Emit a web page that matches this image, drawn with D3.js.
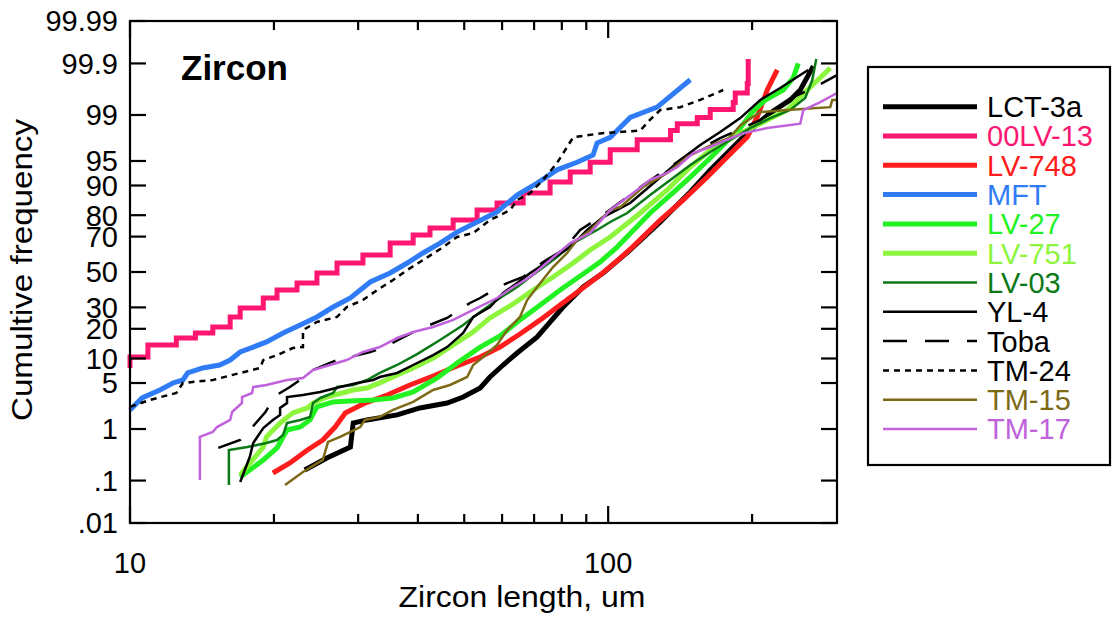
<!DOCTYPE html>
<html><head><meta charset="utf-8">
<script src="https://cdn.jsdelivr.net/npm/d3@7"></script>
<style>
body{margin:0;background:#fff}
svg{display:block}
text{font-family:"Liberation Sans",Arial,Helvetica,sans-serif}
</style>
</head><body>
<svg id="chart" width="1115" height="617"></svg>
<script>
// ---------- DATA (length in um, cumulative frequency in %) ----------
const seriesNames = ["LCT-3a","00LV-13","LV-748","MFT","LV-27","LV-751","LV-03","YL-4","Toba","TM-24","TM-15","TM-17"];

const lct3a = [[23.2,0.168],[25.8,0.293],[28.9,0.476],[29.3,1.26],[31.3,1.42],[36.2,1.71],[40.4,2.2],[46.05,2.61],[49.75,3.2],[54.0,4.28],[56.6,5.99],[60.3,8.41],[64.5,11.5],[71.05,16.8],[80.5,30.2],[88.65,41.2],[97.6,49.4],[111.2,62.8],[128.5,77.06],[148.5,88.2],[163.5,93.46],[180,96.46],[198.2,98.23],[218.3,99.08],[240.3,99.46],[252.2,99.65],[268.5,99.886]];
const lv00_13 = [[10,7.75],[10,10.4],[10.9,10.4],[10.9,14.0],[12.1,14.0],[12.5,16.4],[13.7,18.3],[14.9,20.75],[16.2,25.25],[17.0,29.7],[19.0,35.0],[20.3,39.5],[22.35,43.5],[24.6,49.4],[27.1,55.3],[30.7,59.9],[35.0,66.6],[39.1,70.8],[42.4,74.3],[47.4,77.9],[53.2,82.1],[58.55,84.7],[66.4,87.9],[75.6,90.9],[83.3,93.1],[91.7,94.8],[101,96.5],[115,97.5],[135,98.2],[139.5,98.6],[153.6,98.9],[163.5,99.2],[182.6,99.4],[184.4,99.6],[195.4,99.74],[196.3,99.92]];
const lv748 = [[19.9,0.145],[21.6,0.233],[23.5,0.418],[25.3,0.64],[26.85,1.08],[28.2,1.84],[31.0,2.61],[34.5,3.42],[38.5,4.71],[43.05,6.17],[48.3,8.18],[54.0,10.4],[59.4,13.3],[65.4,17.9],[72.1,23.9],[79.35,31.25],[87.4,39.5],[96.2,48.2],[104.9,57.05],[112.4,64.4],[128.5,77.94],[143.6,85.7],[161.2,92.03],[177.4,95.58],[195.4,97.72],[205,98.92],[215.1,99.65],[225.7,99.862]];
const mft = [[10,2.05],[10.6,3.1],[11.55,4.02],[12.3,5.01],[12.9,5.48],[13.2,6.73],[14.2,7.75],[15.4,8.41],[16.2,9.61],[17.0,11.8],[18.1,13.3],[19.3,15.0],[20.9,18.3],[22.7,21.6],[24.6,25.25],[26.6,30.2],[28.9,35.0],[31.8,44.1],[35.0,49.4],[38.0,55.3],[41.0,61.1],[44.5,66.6],[48.3,72.3],[53.2,77.1],[58.55,81.3],[64.5,87.3],[71.05,90.6],[78.2,93.5],[86.1,94.8],[93.0,95.85],[94.8,97.2],[101,97.7],[104.4,98.2],[111.2,98.9],[126.6,99.27],[148.5,99.78]];
const lv27 = [[17.0,0.119],[19.0,0.268],[20.3,0.457],[21.3,0.96],[22.7,1.08],[23.8,1.42],[24.6,2.28],[26.6,2.71],[28.9,2.8],[32.25,2.9],[35.5,3.1],[39.1,3.77],[43.9,5.82],[48.3,8.88],[54.0,13.3],[59.4,17.15],[65.4,23.9],[72.1,31.25],[79.35,39.5],[87.4,47.6],[96.2,55.9],[104.4,64.4],[112,72.3],[122.4,80.9],[134.9,87.3],[148.5,92.0],[163.5,95.44],[175.7,97.2],[188.9,98.35],[200.1,99.11],[213.1,99.46],[232.3,99.65],[243.8,99.8],[249.8,99.9]];
const lv751 = [[17.0,0.132],[19.0,0.476],[19.3,0.73],[20.6,1.26],[21.9,1.84],[23.5,2.2],[24.15,2.61],[25.8,3.2],[29.3,4.02],[31.3,4.28],[33.3,5.01],[36.2,6.35],[39.1,7.75],[43.05,10.1],[47.4,14.0],[52.2,18.7],[56.6,24.8],[63.3,31.8],[69.7,39.5],[76.7,47.05],[84.5,55.3],[91.7,62.8],[101,69.8],[116.7,80.9],[132.9,88.78],[148.5,94.0],[163.5,96.46],[182.6,97.72],[195.4,98.23],[215.1,98.78],[236.8,99.18],[260.8,99.65],[291.4,99.874]];
const lv03 = [[16.1,0.08],[16.1,0.418],[17.6,0.476],[19.3,0.565],[20.3,0.64],[20.9,0.79],[21.3,1.26],[22.7,1.42],[23.8,1.59],[24.15,2.61],[25.0,3.1],[26.6,3.65],[27.1,4.42],[29.3,4.71],[31.3,5.48],[33.3,6.73],[36.2,8.41],[39.85,11.2],[44.5,15.7],[49.75,21.6],[54.0,27.7],[58.55,33.9],[64.5,41.2],[68.7,47.05],[78.2,58.8],[84.5,66.6],[94.8,73.3],[101,77.06],[109.6,80.9],[122.4,87.3],[134.9,91.36],[148.5,94.35],[163.5,96.23],[180,97.48],[198.2,98.35],[218.3,98.87],[240.3,99.18],[258.3,99.503],[267.2,99.777],[272.4,99.92]];
const yl4 = [[17.0,0.093],[17.8,0.306],[18.1,0.565],[19.0,1.04],[19.9,1.42],[20.6,1.71],[20.6,2.2],[21.3,2.61],[21.3,3.2],[23.0,3.42],[25.0,3.77],[27.5,4.42],[29.85,5.01],[32.25,5.48],[33.3,5.99],[36.2,6.73],[39.1,8.41],[43.05,10.9],[46.05,13.3],[49.75,18.3],[52.2,25.25],[56.6,30.2],[60.3,37.8],[64.5,43.5],[68.7,49.4],[75.6,57.05],[83.3,64.4],[90.4,73.3],[97.6,79.24],[104.4,82.1],[111.2,84.66],[126.6,91.36],[141.5,95.15],[155.8,97.0],[171.5,98.1],[188.9,98.87],[208,99.46],[229,99.68],[252.2,99.824],[262,99.862]];
const toba = [[15.3,0.457],[17.0,0.64],[17.8,0.96],[19.2,1.9],[20.1,3.31],[21.6,4.42],[23.0,5.82],[24.15,7.33],[27.1,9.61],[28.9,10.4],[31.8,11.8],[33.8,13.0],[39.85,19.5],[46.05,24.8],[51.4,32.3],[54.0,35.0],[58.55,40.6],[61.5,43.5],[66.4,47.05],[73.1,55.9],[80.5,62.8],[87.4,73.3],[96.2,79.24],[118.4,90.13],[141.5,95.15],[171.5,97.64],[208,98.78],[223.6,99.18],[243.8,99.524],[268.5,99.68],[301,99.824]];
const tm24 = [[10,2.28],[11.0,2.9],[12.5,3.65],[12.9,5.0],[14.9,5.48],[17.0,6.73],[18.7,7.75],[19.0,9.61],[20.3,10.9],[21.9,13.0],[23.0,13.3],[23.0,19.5],[24.6,22.95],[27.1,25.25],[28.4,30.2],[30.7,33.9],[32.9,39.5],[35.5,45.3],[38.0,51.2],[41.0,57.05],[45.2,64.4],[48.3,69.8],[52.2,71.8],[56.6,77.9],[62.4,82.1],[64.5,85.7],[68.7,87.9],[73.1,91.4],[78.2,94.7],[82.05,96.8],[84.5,97.7],[96.2,98.0],[116.7,98.2],[122.4,98.8],[128.5,99.18],[141.5,99.27],[155.8,99.46],[174.0,99.65]];
const tm15 = [[21.1,0.08],[23.0,0.152],[25.3,0.268],[25.95,0.59],[27.5,0.73],[28.9,0.89],[30.3,1.08],[31.0,1.42],[33.3,1.59],[35.5,2.05],[39.1,2.71],[43.05,4.02],[46.7,4.71],[50.7,5.99],[52.2,8.41],[54.8,10.4],[58.55,14.0],[61.5,19.5],[65.4,25.25],[67.7,33.9],[72.1,43.5],[76.7,52.95],[82.05,61.1],[86.1,68.2],[91.7,73.3],[101,82.1],[106,83.2],[118.4,89.6],[132.9,92.9],[146.4,95.6],[161.2,96.8],[180,97.7],[188.9,98.5],[208,99.11],[236.8,99.18],[291.4,99.27],[294.2,99.46],[301,99.46]];
const tm17 = [[14.0,0.103],[14.0,0.73],[14.9,0.89],[15.2,1.08],[16.2,1.42],[16.35,1.9],[17.15,2.61],[17.15,3.2],[18.0,3.65],[18.1,4.42],[19.3,4.71],[21.3,5.48],[23.0,5.82],[24.15,7.33],[26.2,8.41],[28.4,9.61],[30.7,11.8],[33.3,13.3],[36.2,16.4],[39.1,18.7],[43.05,20.75],[47.4,23.9],[52.2,28.7],[58.55,35.0],[63.3,41.2],[68.7,47.05],[75.6,57.05],[83.3,66.6],[91.7,71.8],[101,82.1],[112.8,87.9],[122.4,91.4],[132.9,92.9],[139.5,94.0],[150.6,96.1],[163.5,96.8],[177.4,97.5],[191.6,98.0],[215.1,98.35],[252.2,98.6],[255.9,99.18],[277.7,99.41],[301,99.6]];

const yTickValues = [0.01,0.1,1,5,10,20,30,50,70,80,90,95,99,99.9,99.99];
const yTickLabels = [".01",".1","1","5","10","20","30","50","70","80","90","95","99","99.9","99.99"];
const xMinorTicks = [20,30,40,50,60,70,80,90,200];
const xMajorTicks = [10,100];
const xTickLabels = ["10","100"];

// ---------- STYLES ----------
const seriesData = [lct3a, lv00_13, lv748, mft, lv27, lv751, lv03, yl4, toba, tm24, tm15, tm17];
const colors = ["#000000","#ff1670","#ff1c1c","#2f7cf6","#22f122","#8cf53c","#0b7a16","#000000","#000000","#000000","#7d6a17","#c062dc"];
const widths = [5,5,5,5,5,5,2.5,2.5,2.5,2.5,2.5,2.5];
const dashes = [null,null,null,null,null,null,null,null,"24,18","6,5",null,null];

// ---------- SCALES ----------
function probit(p){
  const a=[-3.969683028665376e+01,2.209460984245205e+02,-2.759285104469687e+02,1.383577518672690e+02,-3.066479806614716e+01,2.506628277459239e+00];
  const b=[-5.447609879822406e+01,1.615858368580409e+02,-1.556989798598866e+02,6.680131188771972e+01,-1.328068155288572e+01];
  const c=[-7.784894002430293e-03,-3.223964580411365e-01,-2.400758277161838e+00,-2.549671464005381e+00,4.374664141464968e+00,2.938163982698783e+00];
  const d=[7.784695709041462e-03,3.224671290700398e-01,2.445134137142996e+00,3.754408661907416e+00];
  const pl=0.02425, ph=1-pl; let q,r;
  if(p<pl){q=Math.sqrt(-2*Math.log(p));return (((((c[0]*q+c[1])*q+c[2])*q+c[3])*q+c[4])*q+c[5])/((((d[0]*q+d[1])*q+d[2])*q+d[3])*q+1);}
  if(p<=ph){q=p-0.5;r=q*q;return (((((a[0]*r+a[1])*r+a[2])*r+a[3])*r+a[4])*r+a[5])*q/(((((b[0]*r+b[1])*r+b[2])*r+b[3])*r+b[4])*r+1);}
  q=Math.sqrt(-2*Math.log(1-p));return -(((((c[0]*q+c[1])*q+c[2])*q+c[3])*q+c[4])*q+c[5])/((((d[0]*q+d[1])*q+d[2])*q+d[3])*q+1);
}
const L=130, R=837, T=21, B=523;
const x = d3.scaleLog().domain([10,301]).range([L,R]);
const yLin = d3.scaleLinear().domain([probit(0.0001), probit(0.9999)]).range([B,T]);
const y = p => yLin(probit(p/100));

const svg = d3.select("#chart");

// ---------- SERIES ----------
const lineLin = d3.line().x(d=>x(d[0])).y(d=>y(d[1]));
const lineStep = d3.line().x(d=>x(d[0])).y(d=>y(d[1])).curve(d3.curveStepAfter);
seriesData.forEach((s,i)=>{
  svg.append("path").datum(s)
    .attr("d", i===1 ? lineStep : lineLin)
    .attr("fill","none").attr("stroke",colors[i]).attr("stroke-width",widths[i])
    .attr("stroke-linejoin","miter").attr("stroke-linecap","butt")
    .attr("stroke-dasharray",dashes[i]);
});

// ---------- FRAME & TICKS ----------
svg.append("rect").attr("x",L).attr("y",T).attr("width",R-L).attr("height",B-T)
  .attr("fill","none").attr("stroke","#000").attr("stroke-width",2.2);
const g = svg.append("g").attr("stroke","#000").attr("stroke-width",2.2);
yTickValues.forEach(v=>{
  g.append("line").attr("x1",L).attr("x2",L+16).attr("y1",y(v)).attr("y2",y(v));
  g.append("line").attr("x1",R).attr("x2",R-16).attr("y1",y(v)).attr("y2",y(v));
});
xMinorTicks.forEach(v=>{
  g.append("line").attr("x1",x(v)).attr("x2",x(v)).attr("y1",B).attr("y2",B-9);
  g.append("line").attr("x1",x(v)).attr("x2",x(v)).attr("y1",T).attr("y2",T+9);
});
xMajorTicks.forEach(v=>{
  g.append("line").attr("x1",x(v)).attr("x2",x(v)).attr("y1",B).attr("y2",B-17);
  g.append("line").attr("x1",x(v)).attr("x2",x(v)).attr("y1",T).attr("y2",T+17);
});

// ---------- LABELS ----------
yTickValues.forEach((v,i)=>{
  svg.append("text").attr("x",118).attr("y",y(v)).attr("dy","0.36em")
    .attr("text-anchor","end").attr("font-size",29).text(yTickLabels[i]);
});
xMajorTicks.forEach((v,i)=>{
  svg.append("text").attr("x",x(v)).attr("y",573)
    .attr("text-anchor","middle").attr("font-size",29).text(xTickLabels[i]);
});
svg.append("text").attr("x",522).attr("y",607).attr("text-anchor","middle")
  .attr("font-size",29).attr("textLength",247).attr("lengthAdjust","spacingAndGlyphs")
  .text("Zircon length, um");
svg.append("text").attr("transform","translate(32,270) rotate(-90)").attr("text-anchor","middle")
  .attr("font-size",29).attr("textLength",302).attr("lengthAdjust","spacingAndGlyphs")
  .text("Cumultive frequency");
svg.append("text").attr("x",181).attr("y",80).attr("font-size",35).attr("font-weight","bold").text("Zircon");

// ---------- LEGEND ----------
svg.append("rect").attr("x",868).attr("y",67).attr("width",242).attr("height",398)
  .attr("fill","none").attr("stroke","#000").attr("stroke-width",2.2);
seriesNames.forEach((n,i)=>{
  const ry = 106.7 + i*29.3;
  svg.append("line").attr("x1",883).attr("x2",977).attr("y1",ry).attr("y2",ry)
    .attr("stroke",colors[i]).attr("stroke-width",widths[i]).attr("stroke-dasharray",dashes[i]);
  svg.append("text").attr("x",987).attr("y",ry).attr("dy","0.36em")
    .attr("font-size",29).attr("fill",colors[i]).text(n);
});
</script>
</body></html>
